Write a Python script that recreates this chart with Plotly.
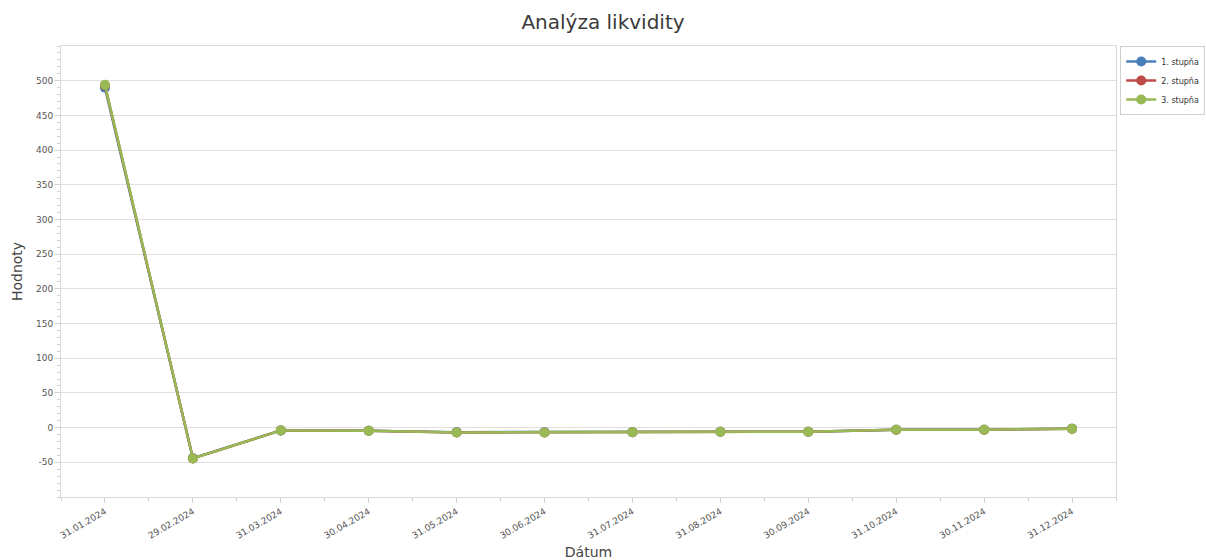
import plotly.graph_objects as go

dates = ["31.01.2024", "29.02.2024", "31.03.2024", "30.04.2024", "31.05.2024", "30.06.2024",
         "31.07.2024", "31.08.2024", "30.09.2024", "31.10.2024", "30.11.2024", "31.12.2024"]
stupen1 = [490, -44, -4, -4.5, -6.5, -6.5, -6.5, -6, -6, -3, -3, -1.5]
stupen2 = [493, -44.5, -4, -4.5, -7, -7, -6.5, -6, -6, -3, -3, -1.5]
stupen3 = [494, -44.5, -4, -4.5, -7, -7, -6.5, -6, -6, -3, -3, -1.5]
ytick_vals = [-50, 0, 50, 100, 150, 200, 250, 300, 350, 400, 450, 500]
ytick_text = ["-50", "0", "50", "100", "150", "200", "250", "300", "350", "400", "450", "500"]

series = [("1. stupňa", stupen1, "#4a7ebb"),
          ("2. stupňa", stupen2, "#be4b48"),
          ("3. stupňa", stupen3, "#98b954")]

idx = list(range(len(dates)))
fig = go.Figure()
for name, vals, col in series:
    fig.add_trace(go.Scatter(x=idx, y=vals, name=name, mode="lines+markers",
                             line=dict(color=col, width=2.5),
                             marker=dict(color=col, size=10)))

font = "DejaVu Sans"
fig.update_layout(
    width=1206, height=560,
    paper_bgcolor="white", plot_bgcolor="white",
    margin=dict(l=61, r=90, t=46, b=63, autoexpand=False),
    title=dict(text="Analýza likvidity", x=0.5, xanchor="center", y=0.974, yanchor="top",
               font=dict(family=font, size=20, color="#3a3a3a")),
    font=dict(family=font, color="#555555"),
    showlegend=True,
    legend=dict(x=1.004, y=1, xanchor="left", yanchor="top",
                bordercolor="#d0d0d0", borderwidth=1, bgcolor="white",
                font=dict(family=font, size=8, color="#333333"),
                itemwidth=30, tracegroupgap=0),
    xaxis=dict(range=[-0.5, 11.5], tickmode="array", tickvals=idx, ticktext=dates,
               tickangle=-30, tickfont=dict(size=9, color="#555555"),
               showgrid=False, zeroline=False, automargin=False,
               showline=True, linecolor="#d9d9d9", mirror=True,
               ticks="outside", ticklen=5, tickcolor="#d0d0d0",
               minor=dict(dtick=0.5, tick0=0, ticks="outside", ticklen=3, tickcolor="#d0d0d0"),
               title=dict(text="Dátum", font=dict(size=14, color="#444444"), standoff=8)),
    yaxis=dict(range=[-100, 550], tickmode="array", tickvals=ytick_vals, ticktext=ytick_text,
               tickfont=dict(size=9, color="#555555"),
               showgrid=True, gridcolor="#e0e0e0", gridwidth=1, zeroline=False, automargin=False,
               showline=True, linecolor="#d9d9d9", mirror=True,
               ticks="outside", ticklen=5, tickcolor="#d0d0d0",
               minor=dict(dtick=10, tick0=0, ticks="outside", ticklen=3, tickcolor="#d0d0d0",
                          showgrid=False),
               title=dict(text="Hodnoty", font=dict(size=14, color="#444444"), standoff=10)),
)

fig.write_html("out.html", config={"displayModeBar": False},
               post_script="document.body.style.margin='0';document.body.style.overflow='hidden';")
